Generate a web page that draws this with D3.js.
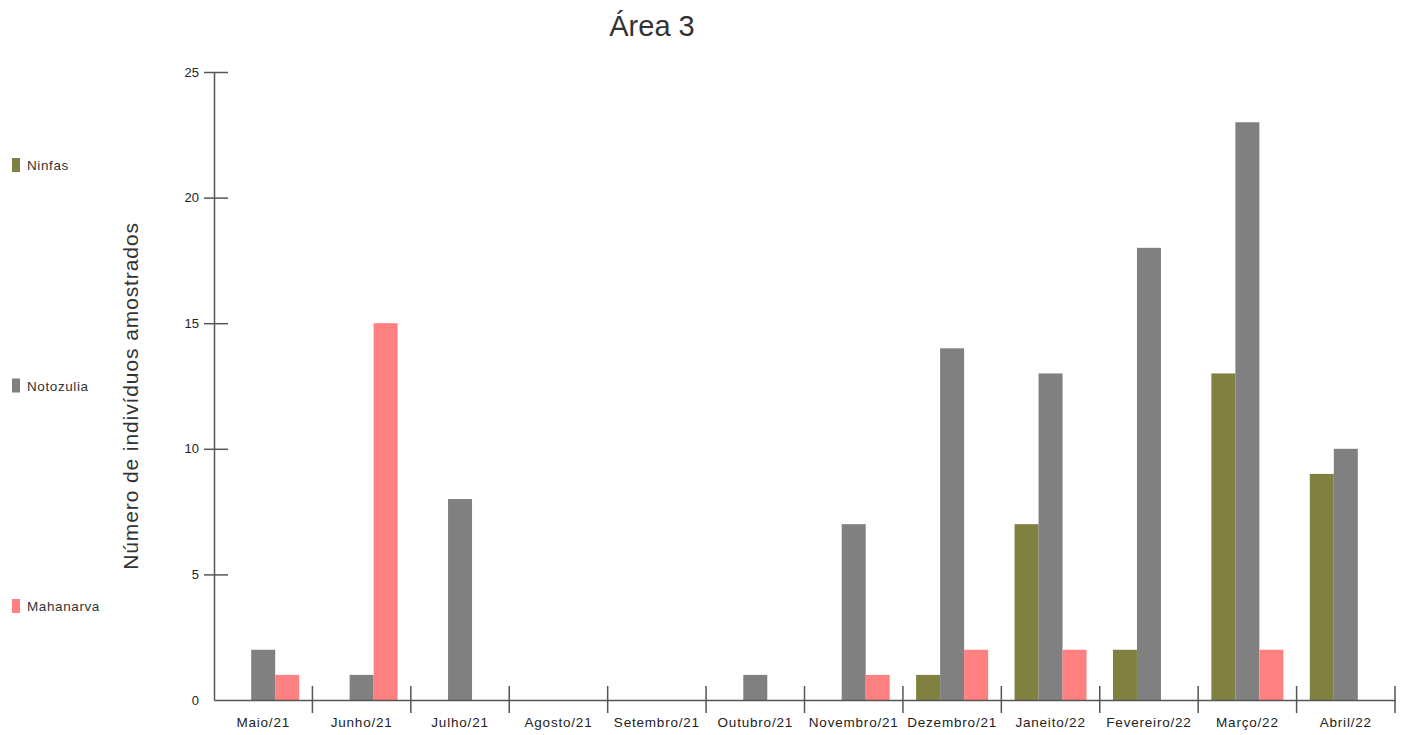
<!DOCTYPE html>
<html>
<head>
<meta charset="utf-8">
<script src="https://cdn.jsdelivr.net/npm/d3@7"></script>
<style>
  body { margin: 0; background: #fff; }
  text { font-family: "Liberation Sans", Arial, sans-serif; }
</style>
</head>
<body>
<svg id="chart" width="1410" height="735"></svg>
<script>
const months = ["Maio/21", "Junho/21", "Julho/21", "Agosto/21", "Setembro/21", "Outubro/21",
  "Novembro/21", "Dezembro/21", "Janeito/22", "Fevereiro/22", "Março/22", "Abril/22"];
const seriesNames = ["Ninfas", "Notozulia", "Mahanarva"];
const ninfas    = [0, 0, 0, 0, 0, 0, 0, 1, 7, 2, 13, 9];
const notozulia = [2, 1, 8, 0, 0, 1, 7, 14, 13, 18, 23, 10];
const mahanarva = [1, 15, 0, 0, 0, 0, 1, 2, 2, 0, 2, 0];
const yTicks = [0, 5, 10, 15, 20, 25];
const colors = ["#808040", "#808080", "#ff8080"];

const svg = d3.select("#chart");
const plotLeft = 214, plotRight = 1395, plotTop = 72, plotBottom = 700;

const x = d3.scaleBand().domain(months).range([plotLeft, plotRight]);
const xs = d3.scaleBand().domain(seriesNames).range([0, 72]);
const y = d3.scaleLinear().domain([0, 25]).range([plotBottom, plotTop]);

const values = [ninfas, notozulia, mahanarva];
const rows = months.map((m, i) => ({ month: m, vals: seriesNames.map((s, j) => ({ s, v: values[j][i] })) }));

// title
svg.append("text")
  .attr("x", 652).attr("y", 36)
  .attr("text-anchor", "middle")
  .attr("font-size", "29px")
  .attr("fill", "#333")
  .text("Área 3");

// y label
svg.append("text")
  .attr("transform", `translate(138,396) rotate(-90)`)
  .attr("text-anchor", "middle")
  .attr("font-size", "21px")
  .attr("letter-spacing", "0.9px")
  .attr("fill", "#333")
  .text("Número de indivíduos amostrados");

// bars
const groups = svg.selectAll(".grp")
  .data(rows)
  .enter().append("g")
  .attr("class", "grp")
  .attr("transform", d => `translate(${x(d.month) + (x.bandwidth() - 72) / 2},0)`);

groups.selectAll("rect")
  .data(d => d.vals.filter(v => v.v > 0))
  .enter().append("rect")
  .attr("x", d => xs(d.s))
  .attr("y", d => y(d.v))
  .attr("width", xs.bandwidth())
  .attr("height", d => y(0) - y(d.v))
  .attr("fill", d => colors[seriesNames.indexOf(d.s)]);

// y axis
const yAxis = svg.append("g")
  .attr("transform", `translate(${plotLeft},0)`)
  .call(d3.axisLeft(y).tickValues(yTicks).tickSize(0).tickPadding(15));
yAxis.select(".domain").attr("stroke", "#555").attr("stroke-width", 1.5);
yAxis.selectAll(".tick line").remove();
yAxis.selectAll(".tick").filter(d => d > 0).append("line")
  .attr("x1", -10).attr("x2", 14)
  .attr("stroke", "#555").attr("stroke-width", 1.5);
yAxis.selectAll("text").attr("font-size", "13px").attr("fill", "#222");

// x axis
const xAxis = svg.append("g")
  .attr("transform", `translate(0,${plotBottom})`)
  .call(d3.axisBottom(x).tickSize(0).tickPadding(17));
xAxis.select(".domain").attr("stroke", "#555").attr("stroke-width", 1.5);
xAxis.selectAll("text")
  .attr("font-size", "13.5px")
  .attr("letter-spacing", "0.8px")
  .attr("fill", "#222");
xAxis.selectAll(".div")
  .data(months)
  .enter().append("line")
  .attr("x1", d => x(d) + x.bandwidth()).attr("x2", d => x(d) + x.bandwidth())
  .attr("y1", -14).attr("y2", 13)
  .attr("stroke", "#555").attr("stroke-width", 1.5);

// legend
const legend = svg.selectAll(".leg")
  .data(seriesNames)
  .enter().append("g")
  .attr("class", "leg")
  .attr("transform", (d, i) => `translate(12,${165 + i * 220.5})`);
legend.append("rect")
  .attr("x", 0).attr("y", -7)
  .attr("width", 8).attr("height", 14)
  .attr("fill", (d, i) => colors[i]);
legend.append("text")
  .attr("x", 15).attr("y", 5)
  .attr("font-size", "13.5px")
  .attr("letter-spacing", "0.6px")
  .attr("fill", "#333")
  .text(d => d);
</script>
</body>
</html>
